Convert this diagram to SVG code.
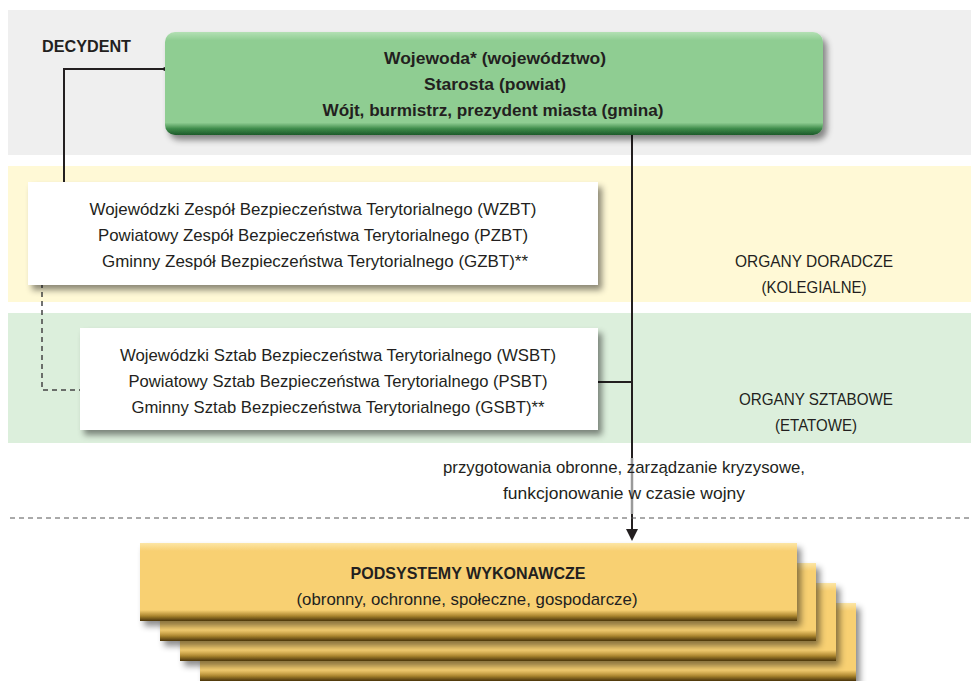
<svg xmlns="http://www.w3.org/2000/svg" width="971" height="681" viewBox="0 0 971 681">
<defs>
<style>
.t{font-family:"Liberation Sans",Arial,sans-serif;font-size:17px;fill:#231f20;text-anchor:middle}
.b{font-weight:bold}
.ln{stroke:#231f20;stroke-width:2;fill:none}
</style>
<linearGradient id="gGreen" x1="0" y1="0" x2="0" y2="1">
<stop offset="0" stop-color="#b3e0b4"/>
<stop offset="0.08" stop-color="#8fcd92"/>
<stop offset="0.88" stop-color="#8fcd92"/>
<stop offset="0.94" stop-color="#3d8a49"/>
<stop offset="1" stop-color="#1d5a2a"/>
</linearGradient>
<linearGradient id="gCard" x1="0" y1="0" x2="0" y2="1">
<stop offset="0" stop-color="#fce6a6"/>
<stop offset="0.1" stop-color="#f8d072"/>
<stop offset="0.86" stop-color="#f8d072"/>
<stop offset="0.93" stop-color="#b08a33"/>
<stop offset="1" stop-color="#4a3508"/>
</linearGradient>
<filter id="sh" x="-5%" y="-10%" width="115%" height="130%">
<feDropShadow dx="4" dy="5" stdDeviation="3" flood-color="#000" flood-opacity="0.45"/>
</filter>
</defs>

<g id="bands">
<rect x="8" y="10" width="963" height="145" fill="#efefef"/>
<rect x="8" y="166" width="963" height="136" fill="#fff9d6"/>
<rect x="8" y="313" width="963" height="130" fill="#dcefdc"/>
</g>

<g id="connectors">
<path class="ln" d="M165,69 H64 V182" stroke-width="1.5"/>
<circle cx="165" cy="69" r="2" fill="#231f20"/>
<path d="M42,256 V390 H80" stroke="#444" stroke-width="1.5" fill="none" stroke-dasharray="5,4"/>
<path class="ln" d="M598,382 H632"/>
<path class="ln" d="M632,135 V458"/>
<path d="M632,458 V514" stroke="#9a9a9a" stroke-width="2.5" fill="none"/>
<path class="ln" d="M632,514 V531"/>
<path d="M626,529 L632,541 L638,529 Z" fill="#231f20"/>
<line x1="10" y1="518" x2="971" y2="518" stroke="#555" stroke-width="1" stroke-dasharray="5,4"/>
</g>

<g id="label-decydent">
<text class="t b" x="42" y="52" style="text-anchor:start" textLength="89" lengthAdjust="spacingAndGlyphs">DECYDENT</text>
</g>

<g id="node-decydent">
<rect x="165" y="32" width="658" height="103" rx="10" fill="url(#gGreen)" filter="url(#sh)"/>
<text class="t b" x="495" y="64" textLength="222" lengthAdjust="spacingAndGlyphs">Wojewoda* (województwo)</text>
<text class="t b" x="495" y="90" textLength="142" lengthAdjust="spacingAndGlyphs">Starosta (powiat)</text>
<text class="t b" x="493" y="116" textLength="341" lengthAdjust="spacingAndGlyphs">Wójt, burmistrz, prezydent miasta (gmina)</text>
</g>

<g id="node-zespol">
<rect x="28" y="182" width="570" height="103" fill="#fff" filter="url(#sh)"/>
<text class="t" x="313" y="215" textLength="447" lengthAdjust="spacingAndGlyphs">Wojewódzki Zespół Bezpieczeństwa Terytorialnego (WZBT)</text>
<text class="t" x="313" y="241" textLength="430" lengthAdjust="spacingAndGlyphs">Powiatowy Zespół Bezpieczeństwa Terytorialnego (PZBT)</text>
<text class="t" x="315" y="267" textLength="426" lengthAdjust="spacingAndGlyphs">Gminny Zespół Bezpieczeństwa Terytorialnego (GZBT)**</text>
</g>

<g id="node-sztab">
<rect x="80" y="328" width="518" height="102" fill="#fff" filter="url(#sh)"/>
<text class="t" x="338" y="361" textLength="436" lengthAdjust="spacingAndGlyphs">Wojewódzki Sztab Bezpieczeństwa Terytorialnego (WSBT)</text>
<text class="t" x="338" y="387" textLength="419" lengthAdjust="spacingAndGlyphs">Powiatowy Sztab Bezpieczeństwa Terytorialnego (PSBT)</text>
<text class="t" x="338" y="413" textLength="413" lengthAdjust="spacingAndGlyphs">Gminny Sztab Bezpieczeństwa Terytorialnego (GSBT)**</text>
</g>

<g id="label-doradcze">
<text class="t" x="814" y="267" textLength="158" lengthAdjust="spacingAndGlyphs">ORGANY DORADCZE</text>
<text class="t" x="814" y="293" textLength="105" lengthAdjust="spacingAndGlyphs">(KOLEGIALNE)</text>
</g>

<g id="label-sztabowe">
<text class="t" x="816" y="405" textLength="154" lengthAdjust="spacingAndGlyphs">ORGANY SZTABOWE</text>
<text class="t" x="816" y="431" textLength="82" lengthAdjust="spacingAndGlyphs">(ETATOWE)</text>
</g>

<g id="label-flow">
<text class="t" x="624" y="473" textLength="362" lengthAdjust="spacingAndGlyphs">przygotowania obronne, zarządzanie kryzysowe,</text>
<text class="t" x="624" y="499" textLength="242" lengthAdjust="spacingAndGlyphs">funkcjonowanie w czasie wojny</text>
</g>

<g id="node-podsystemy">
<rect x="200" y="603" width="656" height="78" fill="url(#gCard)" filter="url(#sh)"/>
<rect x="180" y="583" width="656" height="78" fill="url(#gCard)" filter="url(#sh)"/>
<rect x="160" y="563" width="656" height="78" fill="url(#gCard)" filter="url(#sh)"/>
<rect x="140" y="543" width="657" height="78" fill="url(#gCard)" filter="url(#sh)"/>
<text class="t b" x="468" y="579" textLength="235" lengthAdjust="spacingAndGlyphs">PODSYSTEMY WYKONAWCZE</text>
<text class="t" x="467" y="605" textLength="341" lengthAdjust="spacingAndGlyphs">(obronny, ochronne, społeczne, gospodarcze)</text>
</g>
</svg>
